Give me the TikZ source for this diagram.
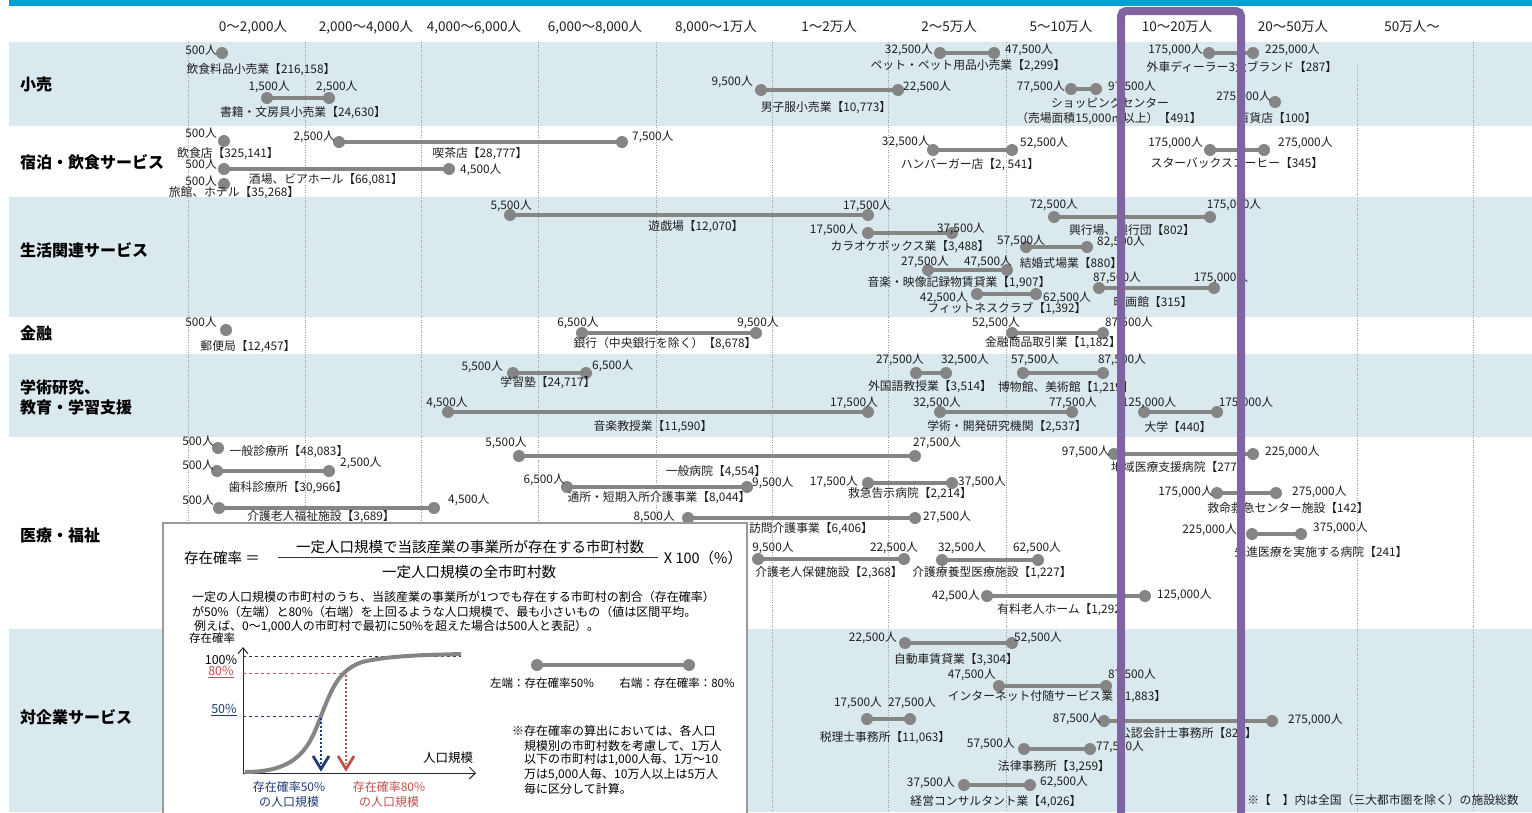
\documentclass[tikz,border=0pt]{standalone}
\usepackage{fontspec}
\setmainfont{Noto Sans CJK JP}
\usetikzlibrary{arrows.meta}
\definecolor{bandc}{HTML}{DAE9EE}
\definecolor{topc}{HTML}{00A2D4}
\definecolor{barc}{HTML}{858585}
\definecolor{gridc}{HTML}{9A9A9A}
\definecolor{txtc}{HTML}{1E1E1E}
\definecolor{purp}{HTML}{8064A2}
\definecolor{navyc}{HTML}{1F3A78}
\definecolor{redc}{HTML}{C0504D}
\newcounter{lc}
\newcommand\lab[4]{\stepcounter{lc}\node[lbl,anchor=#1] (lab\arabic{lc}) at (#2,#3) {#4};}
\newcommand\rng[3]{\draw[barline] (#1,#3) -- (#2,#3); \fill[barc] (#1,#3) circle[radius=6pt]; \fill[barc] (#2,#3) circle[radius=6pt];}
\newcommand\dotat[2]{\fill[barc] (#1,#2) circle[radius=6pt];}
\tikzset{
  barline/.style={draw=barc, line width=4pt},
  lbl/.style={inner sep=0pt, text=txtc, font=\fontsize{11.8}{13}\selectfont},
  hdr/.style={inner sep=0pt, text=txtc, font=\fontsize{13.5}{15}\selectfont},
  cat/.style={inner sep=0pt, anchor=west, text=black, font=\bfseries\fontsize{16}{18}\selectfont},
  gridline/.style={draw=gridc, line width=1pt, dash pattern=on 1pt off 1.5pt},
  boxtxt/.style={inner sep=0pt, text=black, font=\fontsize{12}{14}\selectfont},
}
\begin{document}
\begin{tikzpicture}[x=1pt,y=-1pt]
\useasboundingbox (0,0) rectangle (1532,812);
\clip (0,0) rectangle (1532,812);
\fill[white] (0,0) rectangle (1532,812);
% top bar and bands
\fill[topc] (9,0) rectangle (1532,6);
\fill[bandc] (9,42) rectangle (1532,126);
\fill[bandc] (9,197) rectangle (1532,317);
\fill[bandc] (9,354) rectangle (1532,437);
\fill[bandc] (9,629) rectangle (1532,812);
% grid
\foreach \gx in {188,305,421,538,656,772,888,1006,1123,1240,1473}
  \draw[gridline] (\gx,42) -- (\gx,812);
\draw[gridline] (1357,65) -- (1357,812);
% headers
\node[hdr] (h1) at (253,27) {0～2,000人};
\node[hdr] (h2) at (366,27) {2,000～4,000人};
\node[hdr] (h3) at (474,27) {4,000～6,000人};
\node[hdr] (h4) at (595,27) {6,000～8,000人};
\node[hdr] (h5) at (716,27) {8,000～1万人};
\node[hdr] (h6) at (829,27) {1～2万人};
\node[hdr] (h7) at (949,27) {2～5万人};
\node[hdr] (h8) at (1061,27) {5～10万人};
\node[hdr] (h9) at (1177,27) {10～20万人};
\node[hdr] (h10) at (1293,27) {20～50万人};
\node[hdr] (h11) at (1412,27) {50万人～};
% categories
\node[cat] (c1) at (20,84) {小売};
\node[cat] (c2) at (20,162) {宿泊・飲食サービス};
\node[cat] (c3) at (20,250) {生活関連サービス};
\node[cat] (c4) at (20,333) {金融};
\node[cat] (c5) at (20,387) {学術研究、};
\node[cat] (c6) at (20,407) {教育・学習支援};
\node[cat] (c7) at (20,535) {医療・福祉};
\node[cat] (c8) at (20,717) {対企業サービス};
% ---- 小売
\dotat{222}{53}
\lab{east}{217}{50}{500人}
\lab{center}{261}{70}{飲食料品小売業【216,158】}
\rng{267}{329}{98}
\lab{east}{290}{87}{1,500人}
\lab{west}{316}{87}{2,500人}
\lab{center}{303}{113}{書籍・文房具小売業【24,630】}
\rng{940}{994}{53}
\lab{east}{933}{50}{32,500人}
\lab{west}{1005}{50}{47,500人}
\lab{center}{968}{66}{ペット・ペット用品小売業【2,299】}
\rng{761}{898}{90}
\lab{east}{753}{82}{9,500人}
\lab{west}{903}{87}{22,500人}
\lab{center}{826}{108}{男子服小売業【10,773】}
\rng{1071}{1096}{89}
\lab{east}{1065}{87}{77,500人}
\lab{west}{1108}{87}{97,500人}
\lab{center}{1110}{103}{ショッピングセンター}
\lab{center}{1109}{118}{（売場面積15,000㎡以上）【491】}
\rng{1209}{1253}{53}
\lab{east}{1203}{50}{175,000人}
\lab{west}{1265}{50}{225,000人}
\lab{center}{1242}{67}{外車ディーラー3大ブランド【287】}
\dotat{1275}{102}
\lab{east}{1271}{97}{275,000人}
\lab{center}{1277}{118}{百貨店【100】}
% ---- 宿泊・飲食
\dotat{224}{141}
\lab{east}{217}{133}{500人}
\lab{center}{228}{154}{飲食店【325,141】}
\rng{339}{622}{142}
\lab{east}{335}{137}{2,500人}
\lab{west}{632}{137}{7,500人}
\lab{center}{480}{154}{喫茶店【28,777】}
\rng{224}{449}{169}
\lab{east}{217}{164}{500人}
\lab{west}{460}{170}{4,500人}
\lab{center}{326}{180}{酒場、ビアホール【66,081】}
\dotat{224}{184}
\lab{east}{217}{181}{500人}
\lab{center}{234}{193}{旅館、ホテル【35,268】}
\rng{933}{1012}{150}
\lab{east}{930}{142}{32,500人}
\lab{west}{1020}{143}{52,500人}
\lab{center}{970}{165}{ハンバーガー店【2, 541】}
\rng{1210}{1264}{150}
\lab{east}{1203}{143}{175,000人}
\lab{west}{1278}{143}{275,000人}
\lab{center}{1237}{163}{スターバックスコーヒー【345】}
% ---- 生活関連
\rng{510}{868}{215}
\lab{east}{532}{206}{5,500人}
\lab{center}{867}{206}{17,500人}
\lab{center}{696}{227}{遊戯場【12,070】}
\rng{868}{952}{233}
\lab{east}{858}{230}{17,500人}
\lab{center}{961}{229}{37,500人}
\lab{center}{910}{247}{カラオケボックス業【3,488】}
\rng{928}{1007}{270}
\lab{center}{925}{262}{27,500人}
\lab{center}{988}{262}{47,500人}
\lab{center}{959}{283}{音楽・映像記録物賃貸業【1,907】}
\rng{977}{1036}{294}
\lab{east}{968}{298}{42,500人}
\lab{west}{1043}{298}{62,500人}
\lab{center}{1007}{309}{フィットネスクラブ【1,392】}
\rng{1054}{1210}{217}
\lab{center}{1054}{205}{72,500人}
\lab{center}{1234}{205}{175,000人}
\lab{center}{1132}{230}{興行場、興行団【802】}
\rng{1026}{1087}{247}
\lab{center}{1021}{241}{57,500人}
\lab{west}{1097}{242}{82,500人}
\lab{center}{1071}{263}{結婚式場業【880】}
\rng{1099}{1214}{288}
\lab{center}{1117}{278}{87,500人}
\lab{center}{1221}{278}{175,000人}
\lab{center}{1153}{302}{映画館【315】}
% ---- 金融
\dotat{226}{330}
\lab{east}{217}{322}{500人}
\lab{center}{248}{347}{郵便局【12,457】}
\rng{582}{756}{333}
\lab{center}{578}{323}{6,500人}
\lab{center}{758}{323}{9,500人}
\lab{center}{665}{344}{銀行（中央銀行を除く）【8,678】}
\rng{1012}{1103}{333}
\lab{center}{996}{323}{52,500人}
\lab{center}{1129}{323}{87,500人}
\lab{center}{1053}{343}{金融商品取引業【1,182】}
% ---- 学術研究
\rng{513}{586}{373}
\lab{east}{503}{367}{5,500人}
\lab{west}{592}{366}{6,500人}
\lab{center}{548}{383}{学習塾【24,717】}
\rng{448}{868}{412}
\lab{center}{447}{403}{4,500人}
\lab{center}{854}{403}{17,500人}
\lab{center}{653}{427}{音楽教授業【11,590】}
\rng{916}{946}{373}
\lab{center}{900}{360}{27,500人}
\lab{center}{965}{360}{32,500人}
\lab{center}{930}{387}{外国語教授業【3,514】}
\rng{1023}{1103}{373}
\lab{center}{1035}{360}{57,500人}
\lab{center}{1122}{360}{87,500人}
\lab{center}{1066}{388}{博物館、美術館【1,219】}
\rng{940}{1072}{412}
\lab{center}{937}{403}{32,500人}
\lab{center}{1073}{403}{77,500人}
\lab{center}{1007}{427}{学術・開発研究機関【2,537】}
\rng{1144}{1217}{412}
\lab{center}{1149}{403}{125,000人}
\lab{center}{1246}{403}{175,000人}
\lab{center}{1178}{427}{大学【440】}
% ---- 医療・福祉
\dotat{218}{448}
\lab{east}{214}{441}{500人}
\lab{center}{289}{452}{一般診療所【48,083】}
\rng{217}{329}{471}
\lab{east}{214}{465}{500人}
\lab{west}{340}{463}{2,500人}
\lab{center}{288}{488}{歯科診療所【30,966】}
\rng{219}{434}{508}
\lab{east}{214}{500}{500人}
\lab{west}{448}{500}{4,500人}
\lab{center}{321}{517}{介護老人福祉施設【3,689】}
\rng{519}{915}{456}
\lab{center}{506}{443}{5,500人}
\lab{center}{937}{443}{27,500人}
\lab{center}{716}{472}{一般病院【4,554】}
\rng{567}{747}{487}
\lab{east}{565}{480}{6,500人}
\lab{west}{752}{483}{9,500人}
\lab{center}{659}{498}{通所・短期入所介護事業【8,044】}
\rng{868}{952}{483}
\lab{east}{858}{482}{17,500人}
\lab{west}{958}{482}{37,500人}
\lab{center}{910}{494}{救急告示病院【2,214】}
\rng{688}{915}{518}
\lab{east}{675}{517}{8,500人}
\lab{west}{923}{517}{27,500人}
\lab{center}{811}{529}{訪問介護事業【6,406】}
\rng{758}{904}{559}
\lab{center}{773}{548}{9,500人}
\lab{center}{894}{548}{22,500人}
\lab{center}{829}{573}{介護老人保健施設【2,368】}
\rng{942}{1038}{560}
\lab{center}{962}{548}{32,500人}
\lab{center}{1037}{548}{62,500人}
\lab{center}{992}{573}{介護療養型医療施設【1,227】}
\rng{987}{1145}{596}
\lab{east}{980}{596}{42,500人}
\lab{west}{1157}{595}{125,000人}
\lab{center}{1065}{610}{有料老人ホーム【1,292】}
\rng{1114}{1253}{454}
\lab{east}{1110}{452}{97,500人}
\lab{west}{1265}{452}{225,000人}
\lab{center}{1180}{467}{地域医療支援病院【277】}
\rng{1217}{1276}{493}
\lab{east}{1213}{492}{175,000人}
\lab{west}{1292}{492}{275,000人}
\lab{center}{1288}{508}{救命救急センター施設【142】}
\rng{1252}{1301}{534}
\lab{east}{1237}{530}{225,000人}
\lab{west}{1313}{528}{375,000人}
\lab{center}{1321}{552}{先進医療を実施する病院【241】}
% ---- 対企業サービス
\rng{905}{1012}{643}
\lab{east}{897}{638}{22,500人}
\lab{west}{1014}{638}{52,500人}
\lab{center}{956}{660}{自動車賃貸業【3,304】}
\rng{999}{1106}{686}
\lab{east}{996}{675}{47,500人}
\lab{west}{1108}{675}{87,500人}
\lab{center}{1057}{697}{インターネット付随サービス業【1,883】}
\rng{867}{910}{719}
\lab{center}{858}{703}{17,500人}
\lab{center}{912}{703}{27,500人}
\lab{center}{885}{738}{税理士事務所【11,063】}
\rng{1104}{1272}{721}
\lab{east}{1101}{719}{87,500人}
\lab{west}{1288}{720}{275,000人}
\lab{center}{1188}{733}{公認会計士事務所【827】}
\rng{1024}{1090}{749}
\lab{east}{1015}{744}{57,500人}
\lab{west}{1096}{747}{77,500人}
\lab{center}{1054}{767}{法律事務所【3,259】}
\rng{964}{1030}{785}
\lab{east}{955}{783}{37,500人}
\lab{west}{1040}{782}{62,500人}
\lab{center}{996}{802}{経営コンサルタント業【4,026】}
\lab{center}{1383}{800}{※【　】内は全国（三大都市圏を除く）の施設総数}
% ---- inset box
\draw[draw=black!40, line width=1.2pt, fill=white] (163,523) rectangle (747,840);
\node[boxtxt, font=\fontsize{14.5}{16}\selectfont] (eqL) at (222,558) {存在確率 ＝};
\node[boxtxt, font=\fontsize{14.5}{16}\selectfont] (num) at (470,547) {一定人口規模で当該産業の事業所が存在する市町村数};
\draw[black!80, line width=1pt] (278,557) -- (658,557);
\node[boxtxt, font=\fontsize{14.5}{16}\selectfont] (den) at (469,572) {一定人口規模の全市町村数};
\node[boxtxt, font=\fontsize{14.5}{16}\selectfont] (x100) at (703,558) {X 100（\%）};
\node[boxtxt, anchor=west] (p1) at (192,597) {一定の人口規模の市町村のうち、当該産業の事業所が1つでも存在する市町村の割合（存在確率）};
\node[boxtxt, anchor=west] (p2) at (192,612) {が50\%（左端）と80\%（右端）を上回るような人口規模で、最も小さいもの（値は区間平均。};
\node[boxtxt, anchor=west] (p3) at (194,626) {例えば、0～1,000人の市町村で最初に50\%を超えた場合は500人と表記）。};
% graph
\node[boxtxt, font=\fontsize{11.5}{13}\selectfont] (ylab) at (212,638) {存在確率};
\draw[black!85, line width=1pt, -{Straight Barb[length=6pt,width=10pt]}] (243,773) -- (243,647);
\draw[black!85, line width=1pt, -{Straight Barb[length=6pt,width=12pt]}] (243,773) -- (476,773);
\draw[black!80, line width=1pt, dashed] (243,656) -- (461,656);
\draw[redc, line width=1pt, dashed] (243,673) -- (346,673);
\draw[navyc, line width=1pt, dashed] (243,716) -- (321,716);
\draw[barc, line width=4pt] (245,772) .. controls (300,772) and (310,745) .. (321,716) .. controls (333,685) and (340,670) .. (362,662) .. controls (392,655) and (430,655) .. (461,654);
\draw[navyc, line width=2pt, dash pattern=on 2pt off 2pt] (321,718) -- (321,764);
\draw[redc, line width=2pt, dash pattern=on 2pt off 2pt] (346,675) -- (346,764);
\draw[navyc, line width=2.8pt] (313,756) -- (321,769) -- (329,756);
\draw[redc, line width=2.8pt] (338,756) -- (346,769) -- (354,756);
\node[boxtxt, font=\fontsize{12.5}{14}\selectfont] (p100) at (221,660) {100\%};
\node[boxtxt, text=redc, font=\fontsize{12.5}{14}\selectfont] (p80) at (221,672) {\underline{80\%}};
\node[boxtxt, text=navyc, font=\fontsize{12.5}{14}\selectfont] (p50) at (224,710) {\underline{50\%}};
\node[boxtxt, font=\fontsize{12.5}{14}\selectfont] (xlab) at (448,758) {人口規模};
\node[boxtxt, text=navyc] (n1) at (289,787) {存在確率50\%};
\node[boxtxt, text=navyc] (n2) at (289,802) {の人口規模};
\node[boxtxt, text=redc] (r1) at (389,787) {存在確率80\%};
\node[boxtxt, text=redc] (r2) at (389,802) {の人口規模};
% legend
\rng{537}{689}{665}
\node[boxtxt, font=\fontsize{11.5}{13}\selectfont] (lg1) at (542,683) {左端：存在確率50\%};
\node[boxtxt, font=\fontsize{11.5}{13}\selectfont] (lg2) at (677,683) {右端：存在確率：80\%};
% note
\node[boxtxt, anchor=west] (q1) at (512,731) {※存在確率の算出においては、各人口};
\node[boxtxt, anchor=west] (q2) at (524,746) {規模別の市町村数を考慮して、1万人};
\node[boxtxt, anchor=west] (q3) at (524,760) {以下の市町村は1,000人毎、1万～10};
\node[boxtxt, anchor=west] (q4) at (524,775) {万は5,000人毎、10万人以上は5万人};
\node[boxtxt, anchor=west] (q5) at (524,789) {毎に区分して計算。};
% purple highlight
\draw[purp, line width=8pt, rounded corners=5pt] (1121,11) rectangle (1241,850);
\end{tikzpicture}
\end{document}
